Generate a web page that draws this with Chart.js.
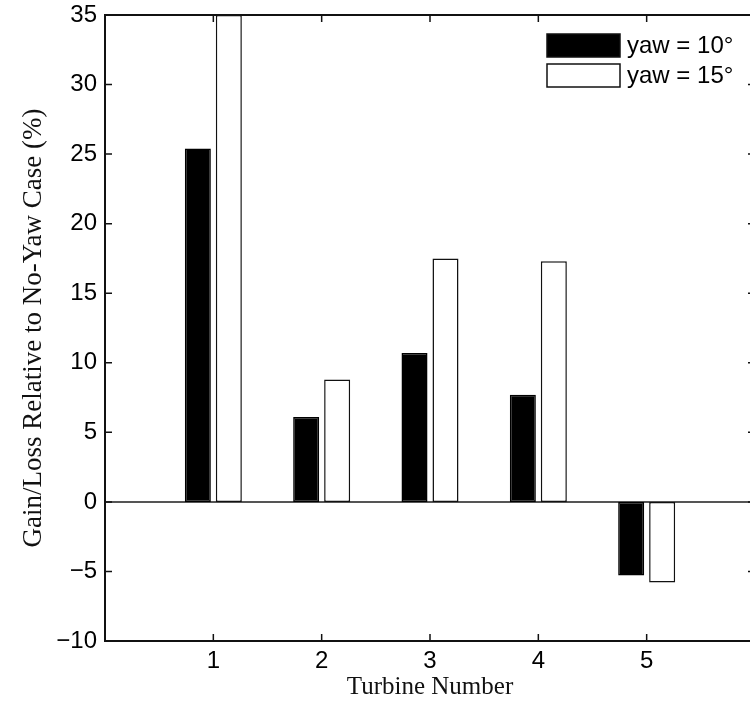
<!DOCTYPE html>
<html>
<head>
<meta charset="utf-8">
<script src="https://cdn.jsdelivr.net/npm/chart.js@4/dist/chart.umd.min.js"></script>
<style>
  html, body { margin: 0; padding: 0; background: #fff; overflow: hidden; }
  canvas { display: block; }
</style>
</head>
<body>
<canvas id="chart" width="770" height="707" style="width:770px;height:707px"></canvas>
<script>
const turbines = [1, 2, 3, 4, 5];
const yaw10 = [25.4, 6.1, 10.7, 7.7, -5.3];
const yaw15 = [35.0, 8.8, 17.5, 17.3, -5.8];
const seriesLabels = ['yaw = 10°', 'yaw = 15°'];

const sans = 'Liberation Sans, Arial, sans-serif';
const serif = 'Liberation Serif, Times New Roman, serif';

// matlab-style box with inward ticks and a zero baseline
const frame = {
    id: 'frame',
    beforeDatasetsDraw(chart) {
        const {ctx, chartArea: a, scales: {y}} = chart;
        const y0 = y.getPixelForValue(0);
        ctx.save();
        ctx.strokeStyle = '#555';
        ctx.lineWidth = 2;
        ctx.beginPath();
        ctx.moveTo(a.left, y0);
        ctx.lineTo(a.right, y0);
        ctx.stroke();
        ctx.restore();
    },
    afterDatasetsDraw(chart) {
        const {ctx, chartArea: a, scales: {x, y}} = chart;
        const len = 7;
        ctx.save();
        ctx.strokeStyle = '#111';
        ctx.lineWidth = 1.5;
        ctx.beginPath();
        x.ticks.forEach(t => {
            if (t.value <= x.min || t.value >= x.max) return;
            const px = x.getPixelForValue(t.value);
            ctx.moveTo(px, a.bottom); ctx.lineTo(px, a.bottom - len);
            ctx.moveTo(px, a.top); ctx.lineTo(px, a.top + len);
        });
        y.ticks.forEach(t => {
            if (t.value <= y.min || t.value >= y.max) return;
            const py = y.getPixelForValue(t.value);
            ctx.moveTo(a.left, py); ctx.lineTo(a.left + len, py);
            ctx.moveTo(a.right, py); ctx.lineTo(a.right - len, py);
        });
        ctx.stroke();
        ctx.lineWidth = 2;
        ctx.strokeRect(a.left, a.top, a.right - a.left, a.bottom - a.top);
        ctx.restore();
    },
    afterDraw(chart) {
        const {ctx, chartArea: a} = chart;
        const bx = a.right - 208, bw = 73, bh = 23;
        ctx.save();
        ctx.font = '24px ' + sans;
        ctx.textBaseline = 'middle';
        chart.data.datasets.forEach((ds, i) => {
            const by = a.top + 19 + i * 30;
            ctx.fillStyle = ds.backgroundColor;
            ctx.fillRect(bx, by, bw, bh);
            ctx.strokeStyle = '#111';
            ctx.lineWidth = 1.5;
            ctx.strokeRect(bx, by, bw, bh);
            ctx.fillStyle = '#000';
            ctx.fillText(ds.label, bx + bw + 7, by + bh / 2 + 1);
        });
        ctx.restore();
    }
};

const ctx = document.querySelector('#chart').getContext('2d');

const chart = new Chart(ctx, {
    type: 'bar',
    data: {
        datasets: [{
            label: seriesLabels[0],
            data: turbines.map((t, i) => ({x: t, y: yaw10[i]})),
            backgroundColor: '#000',
            borderColor: '#000',
            borderWidth: 1.5,
            borderSkipped: false
        }, {
            label: seriesLabels[1],
            data: turbines.map((t, i) => ({x: t, y: yaw15[i]})),
            backgroundColor: '#fff',
            borderColor: '#111',
            borderWidth: 1.5,
            borderSkipped: false
        }]
    },
    options: {
        responsive: false,
        animation: false,
        categoryPercentage: 0.572,
        barPercentage: 0.84,
        layout: {padding: {left: 0, right: 15, top: 15, bottom: 0}},
        plugins: {
            legend: {display: false},
            tooltip: {enabled: false}
        },
        scales: {
            x: {
                type: 'linear',
                min: 0,
                max: 6,
                offset: false,
                grid: {display: false, drawTicks: false, offset: false},
                border: {display: false},
                ticks: {
                    stepSize: 1,
                    padding: 6,
                    color: '#000',
                    font: {family: sans, size: 24},
                    callback: v => (v > 0 && v < 6) ? String(v) : ''
                },
                title: {
                    display: true,
                    text: 'Turbine Number',
                    color: '#111',
                    font: {family: serif, size: 25},
                    padding: {top: 5, bottom: 5}
                },
                afterFit: s => { s.height = 66; s.paddingLeft = 0; s.paddingRight = 0; }
            },
            y: {
                min: -10,
                max: 35,
                grid: {display: false, drawTicks: false},
                border: {display: false},
                ticks: {
                    stepSize: 5,
                    padding: 8,
                    color: '#000',
                    font: {family: sans, size: 24},
                    callback: v => v < 0 ? '\u2212' + Math.abs(v) : String(v)
                },
                title: {
                    display: true,
                    text: 'Gain/Loss Relative to No-Yaw Case (%)',
                    color: '#111',
                    font: {family: serif, size: 27},
                    padding: {top: 18, bottom: 18}
                },
                afterFit: s => { s.width = 105; s.paddingTop = 0; s.paddingBottom = 0; }
            }
        }
    },
    plugins: [frame]
});
</script>
</body>
</html>
